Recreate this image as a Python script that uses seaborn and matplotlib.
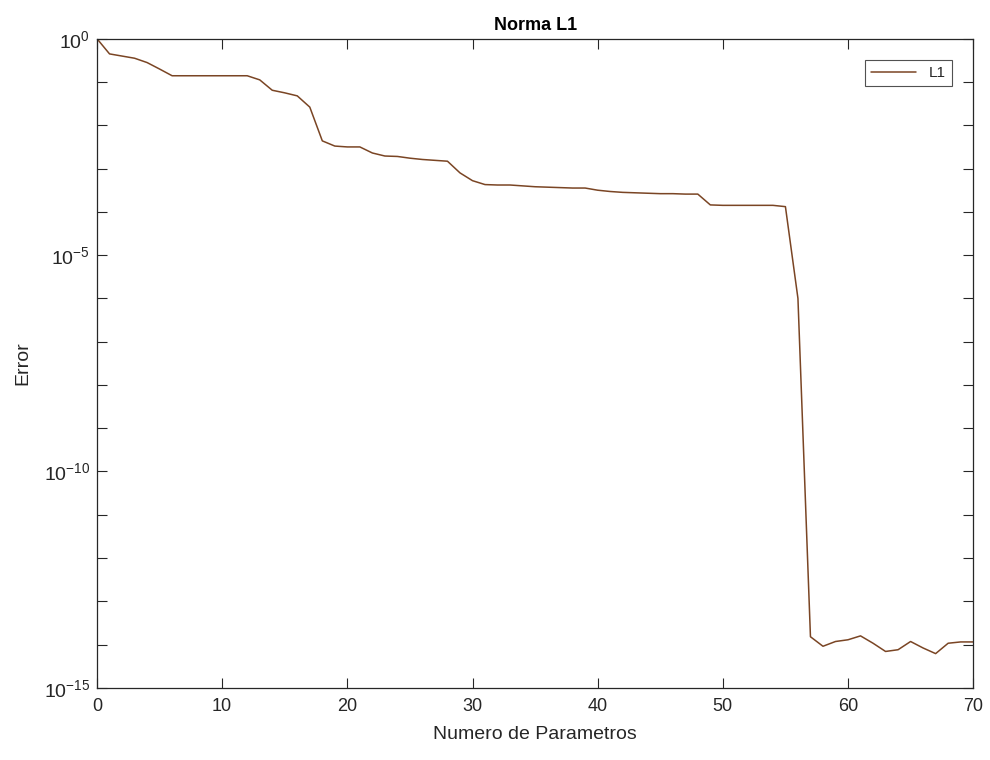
import numpy as np
import pandas as pd
import matplotlib
matplotlib.use("Agg")
import matplotlib.pyplot as plt
import matplotlib.ticker as mticker
import seaborn as sns

# ---- data ----
num_params = list(range(0, 71))
log10_error = [
    0.00, -0.35, -0.40, -0.45, -0.55, -0.70, -0.855, -0.855, -0.855, -0.855,   # 0-9
    -0.855, -0.855, -0.855, -0.95, -1.19, -1.25, -1.32, -1.58, -2.36, -2.48,  # 10-19
    -2.50, -2.50, -2.64, -2.71, -2.72, -2.76, -2.79, -2.81, -2.83, -3.10,  # 20-29
    -3.28, -3.37, -3.38, -3.38, -3.40, -3.42, -3.43, -3.44, -3.45, -3.45,  # 30-39
    -3.50, -3.53, -3.55, -3.56, -3.57, -3.58, -3.58, -3.59, -3.59, -3.84,  # 40-49
    -3.85, -3.85, -3.85, -3.85, -3.85, -3.88, -6.00, -13.82, -14.04, -13.93,  # 50-59
    -13.89, -13.80, -13.97, -14.16, -14.12, -13.93, -14.08, -14.21, -13.97, -13.94,  # 60-69
    -13.94,  # 70
]
series_name = "L1"
title = "Norma L1"
x_label = "Numero de Parametros"
y_label = "Error"
x_ticks = [0, 10, 20, 30, 40, 50, 60, 70]
y_major_exps = [0, -5, -10, -15]

df = pd.DataFrame({"x": num_params, "y": 10.0 ** np.array(log10_error), "serie": series_name})

sns.set_style("white")
plt.rcParams["font.family"] = ["Liberation Sans", "DejaVu Sans"]
plt.rcParams["mathtext.default"] = "regular"
plt.rcParams["axes.unicode_minus"] = False

fig = plt.figure(figsize=(9.9, 7.6), dpi=100)
ax = fig.add_axes([0.098, 0.095, 0.885, 0.854])

line_color = "#7a4524"
sns.lineplot(data=df, x="x", y="y", hue="serie", palette=[line_color],
             linewidth=1.1, ax=ax, legend=True)

ax.set_yscale("log")
ax.set_xlim(0, 70)
ax.set_ylim(1e-15, 1e0)

axis_color = "#262626"
ax.set_xticks(x_ticks)
ax.set_xticklabels([str(t) for t in x_ticks])
ax.yaxis.set_major_locator(mticker.FixedLocator([10.0 ** e for e in y_major_exps]))
ax.set_yticklabels([f"$10^{{{e}}}$" for e in y_major_exps])
minor_vals = [10.0 ** e for e in range(-15, 1) if e not in y_major_exps]
ax.yaxis.set_minor_locator(mticker.FixedLocator(minor_vals))
ax.yaxis.set_minor_formatter(mticker.NullFormatter())

ax.tick_params(axis="both", which="both", direction="in",
               bottom=True, left=True, top=True, right=True,
               colors=axis_color, labelcolor=axis_color, width=0.8)
ax.tick_params(axis="both", which="major", length=7)
ax.tick_params(axis="x", which="major", labelsize=13, pad=7)
ax.tick_params(axis="y", which="major", labelsize=14, pad=5)
ax.tick_params(axis="y", which="minor", length=7)

for sp in ax.spines.values():
    sp.set_color(axis_color)
    sp.set_linewidth(0.9)
    sp.set_visible(True)

ax.set_title(title, fontsize=13, fontweight="bold", color="black", pad=6)
ax.set_xlabel(x_label, fontsize=14, color=axis_color, labelpad=8)
ax.set_ylabel(y_label, fontsize=14, color=axis_color, labelpad=9)

leg = ax.legend(loc="upper right", frameon=True, fancybox=False, fontsize=11,
                handlelength=3.0, borderpad=0.4, borderaxespad=1.4)
leg.set_title(None)
leg.get_frame().set_edgecolor(axis_color)
leg.get_frame().set_linewidth(0.8)
for t in leg.get_texts():
    t.set_color(axis_color)

fig.savefig("out.png", dpi=100, facecolor="white")
